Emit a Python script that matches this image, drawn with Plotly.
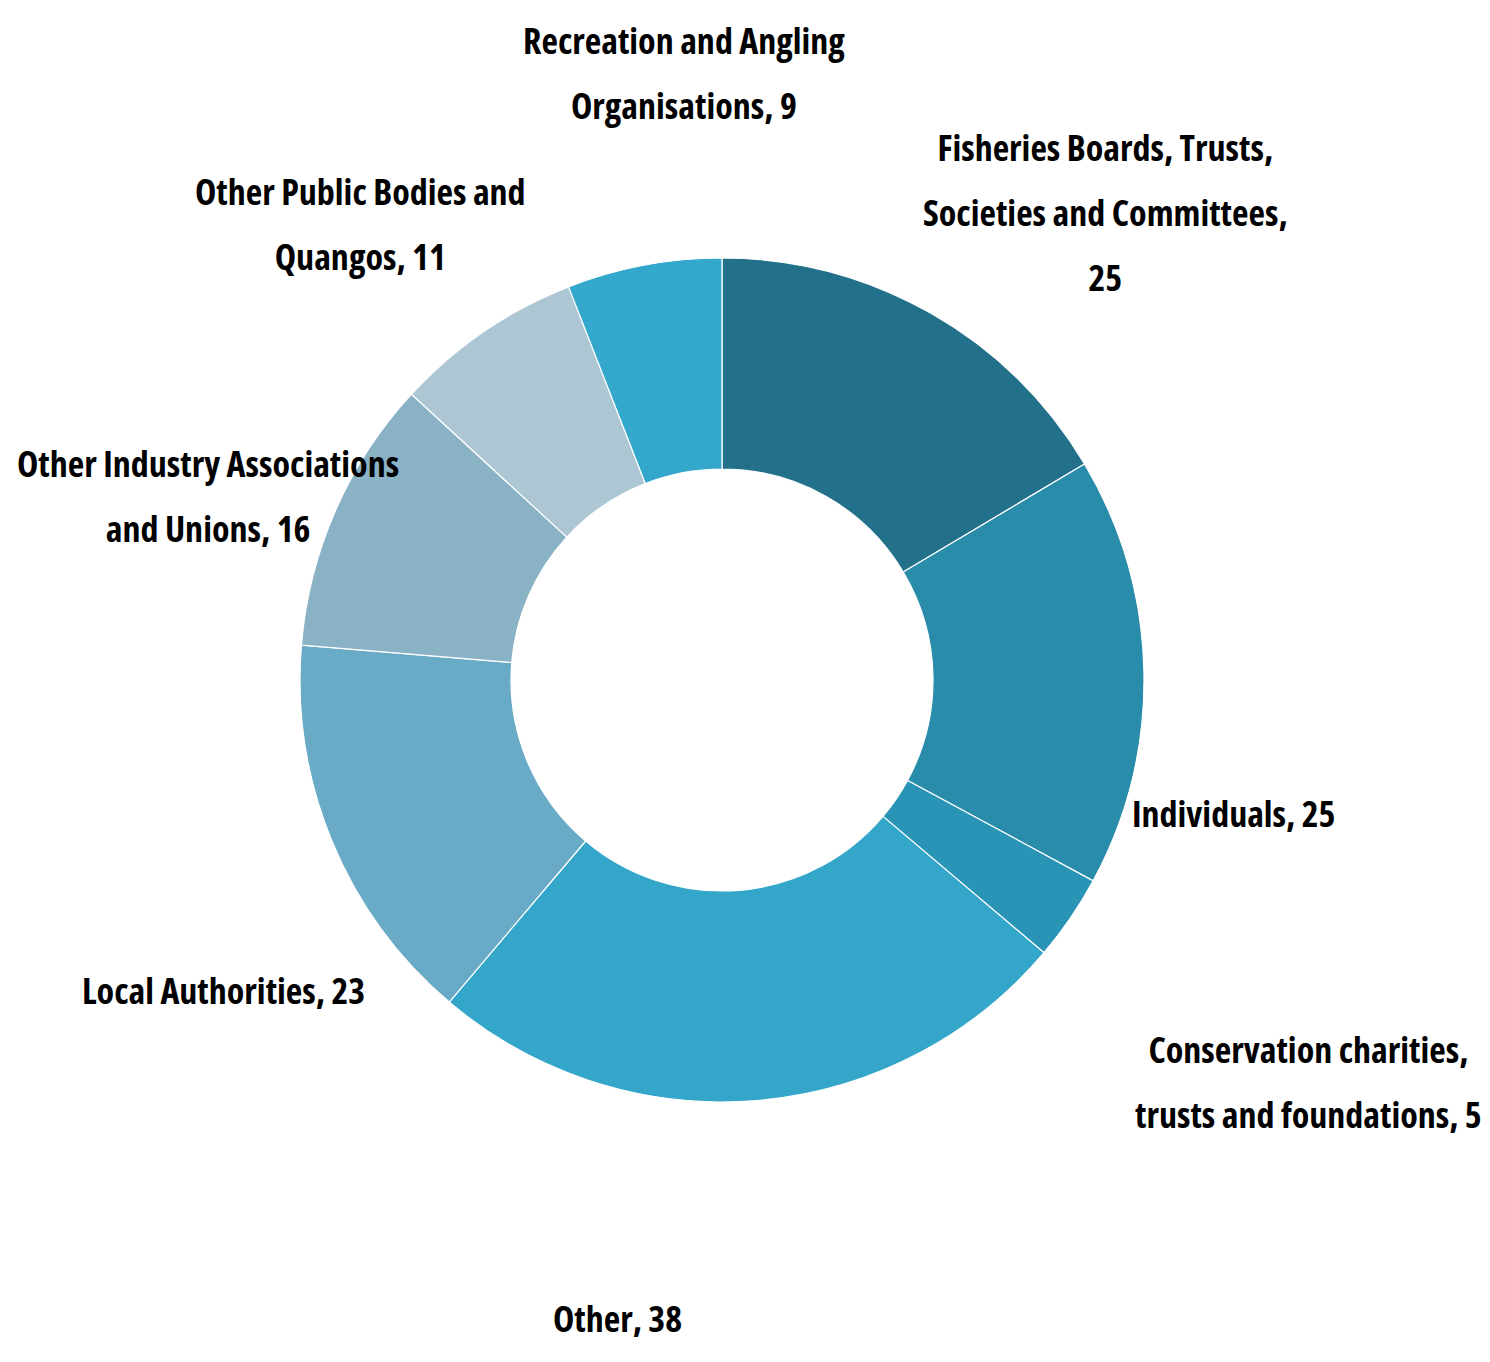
import plotly.graph_objects as go

# ---- data (clockwise from 12 o'clock) ----
categories = [
    "Fisheries Boards, Trusts, Societies and Committees",
    "Individuals",
    "Conservation charities, trusts and foundations",
    "Other",
    "Local Authorities",
    "Other Industry Associations and Unions",
    "Other Public Bodies and Quangos",
    "Recreation and Angling Organisations",
]
values = [25, 25, 5, 38, 23, 16, 11, 9]

# wrapped label text as shown in the chart
label_lines = [
    ["Fisheries Boards, Trusts,", "Societies and Committees,", "{v}"],
    ["Individuals, {v}"],
    ["Conservation charities,", "trusts and foundations, {v}"],
    ["Other, {v}"],
    ["Local Authorities, {v}"],
    ["Other Industry Associations", "and Unions, {v}"],
    ["Other Public Bodies and", "Quangos, {v}"],
    ["Recreation and Angling", "Organisations, {v}"],
]

colors = ["#22708a", "#2a8cab", "#2a94b6", "#33a6c9",
          "#69abc6", "#8ab2c5", "#adc6d3", "#33a7cc"]

# label centres in screen pixels (x, y from top)
label_pos = [(1105, 212), (1233, 813), (1308, 1082), (617, 1318),
             (223, 990), (208, 496), (360, 224), (684, 73)]

OFF = 8                      # default page margin around the figure
W, H = 1490 - 2 * OFF, 1362 - 2 * OFF
cx, cy, r = 722 - OFF, 680 - OFF, 422

fig = go.Figure()
fig.add_trace(go.Pie(
    labels=categories,
    values=values,
    sort=False,
    direction="clockwise",
    rotation=0,
    hole=0.5,
    textinfo="none",
    marker=dict(colors=colors, line=dict(color="white", width=1.2)),
    domain=dict(x=[(cx - r) / W, (cx + r) / W],
                y=[(H - cy - r) / H, (H - cy + r) / H]),
    showlegend=False,
))

span = '<span style="font-stretch:condensed;font-size:36px">'
for lines, v, (px, py) in zip(label_lines, values, label_pos):
    text = "<br>".join(span + l.format(v=v) + "</span>" for l in lines)
    fig.add_annotation(
        x=(px - OFF) / W, y=1 - (py - OFF) / H, xref="paper", yref="paper",
        text=text, showarrow=False, align="center",
        xanchor="center", yanchor="middle",
        font=dict(family="Open Sans", size=50, color="black", weight="bold"),
    )

fig.update_layout(
    width=W, height=H,
    margin=dict(l=0, r=0, t=0, b=0),
    paper_bgcolor="white",
    plot_bgcolor="white",
)

fig.write_html("out.html")
